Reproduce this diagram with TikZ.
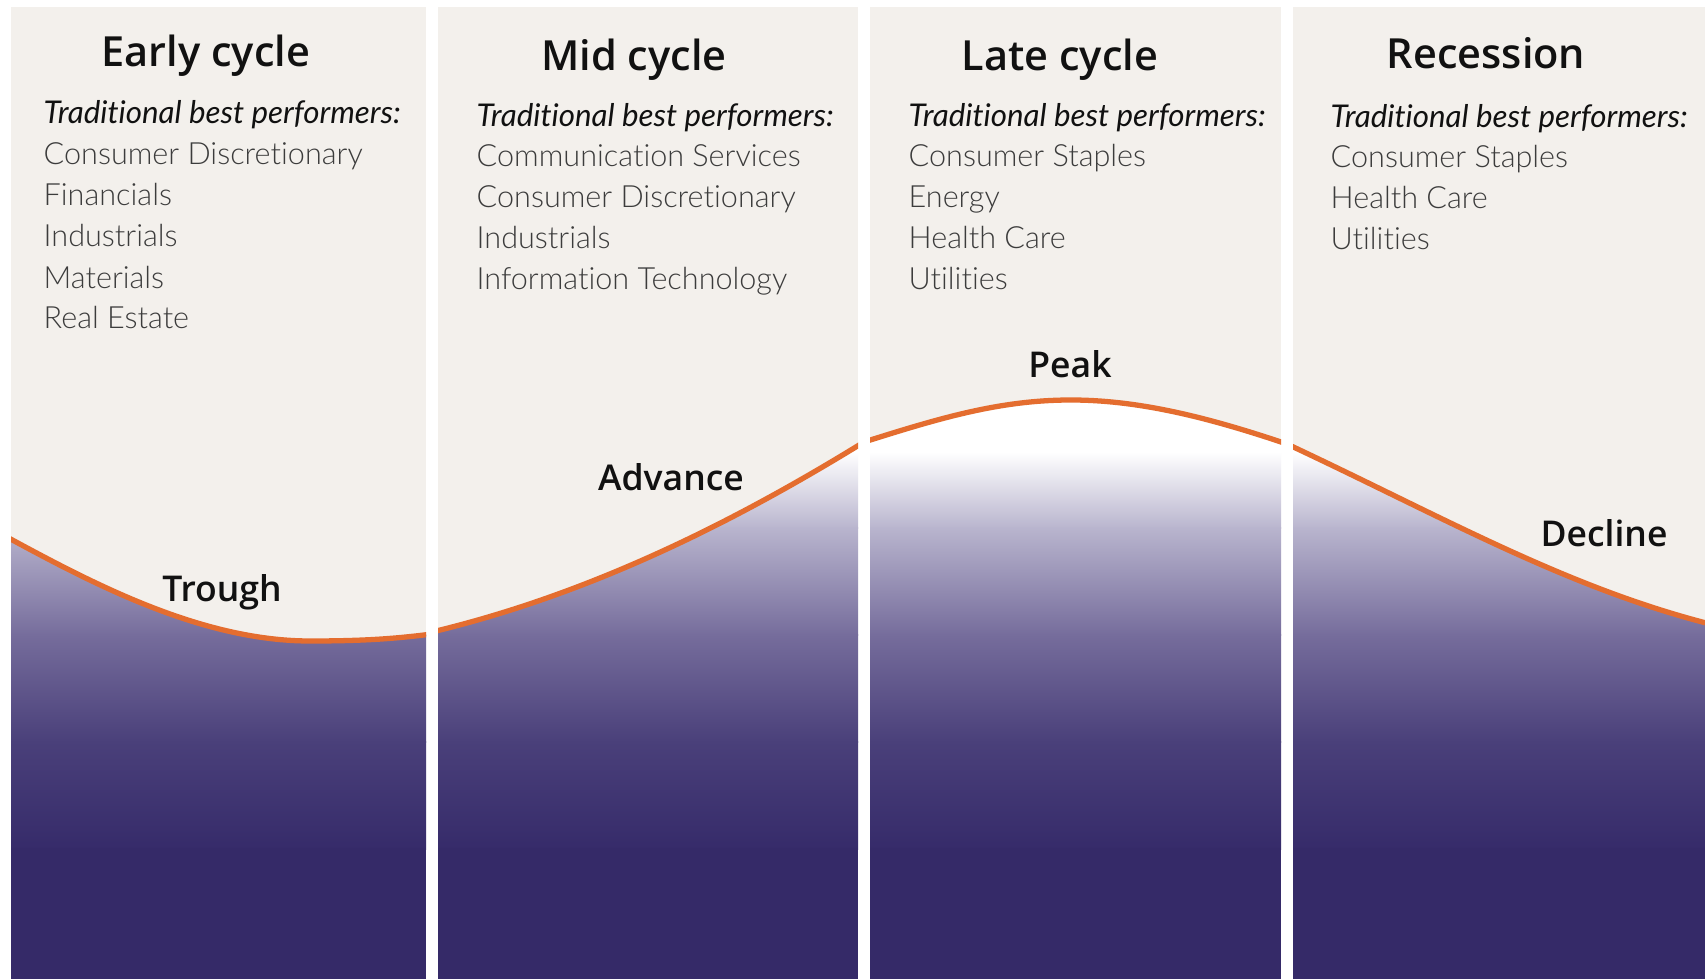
\documentclass[tikz,border=0pt]{standalone}
\usepackage{fontspec}
\setmainfont{Lato}[Ligatures=NoCommon]
\newfontfamily\lightfont{Lato Light}[Ligatures=NoCommon]
\newfontfamily\headfont{Open Sans}[BoldFont={Open Sans Semibold}]

\definecolor{panelbg}{HTML}{F3F0EC}
\definecolor{waveorange}{HTML}{E46D2F}
\definecolor{shadeA}{HTML}{B9B5CE}
\definecolor{shadeB}{HTML}{766D9C}
\definecolor{shadeC}{HTML}{4A407A}
\definecolor{shadeD}{HTML}{362B6A}
\definecolor{navy}{HTML}{352A68}
\definecolor{titleblack}{HTML}{111111}
\definecolor{itemgray}{HTML}{3C3C3C}

\tikzset{
  phase title/.style={font=\headfont\fontsize{11.8}{13}\selectfont\bfseries, text=titleblack, inner sep=0pt, anchor=base},
  perf head/.style={font=\fontsize{8.9}{10}\selectfont\itshape, text=titleblack, inner sep=0pt, anchor=base west},
  perf item/.style={font=\lightfont\fontsize{8.7}{10}\selectfont, text=itemgray, inner sep=0pt, anchor=base west},
  wave label/.style={font=\headfont\fontsize{10.1}{11}\selectfont\bfseries, text=titleblack, inner sep=0pt, anchor=base},
  wave/.style={draw=waveorange, line width=1.5pt},
}

% one column: left edge, right edge, the wave as path
\newcommand\phasepanel[3]{%
  \fill[panelbg] (#1,7) rectangle (#2,979);
  \begin{scope}
    \clip (#1,7) rectangle (#2,979);
    \begin{scope}
      \clip #3 -- (#2,990) -- (#1,990) -- cycle;
      \fill[white] (#1,300) rectangle (#2,453);
      \shade[top color=white, bottom color=shadeA] (#1,452) rectangle (#2,528);
      \shade[top color=shadeA, bottom color=shadeB] (#1,527) rectangle (#2,635);
      \shade[top color=shadeB, bottom color=shadeC] (#1,634) rectangle (#2,742);
      \shade[top color=shadeC, bottom color=shadeD] (#1,741) rectangle (#2,849);
      \fill[navy] (#1,848) rectangle (#2,990);
    \end{scope}
    \draw[wave] #3;
  \end{scope}
}

\begin{document}
\begin{tikzpicture}[x=0.01cm, y=-0.01cm]
  \useasboundingbox (0,0) rectangle (1705,979);
  \fill[white] (0,0) rectangle (1705,979);

  % columns and the wave
  \phasepanel{11}{426}{(5,536) .. controls (90,582) and (200,641) .. (310,641) .. controls (370,641) and (400,638) .. (432,634)}
  \phasepanel{438}{858}{(432,632) .. controls (578,597) and (718,532) .. (864,442)}
  \phasepanel{870}{1281}{(864,442) .. controls (940,418) and (1000,400) .. (1071,400) .. controls (1140,400) and (1210,418) .. (1287,444)}
  \phasepanel{1293}{1705}{(1287,444) .. controls (1443,517) and (1565,587) .. (1710,624)}

  % titles
  \node[phase title] (title1) at (206,67) {Early cycle};
  \node[phase title] (title2) at (634,71) {Mid cycle};
  \node[phase title] (title3) at (1060,71) {Late cycle};
  \node[phase title] (title4) at (1486,69) {Recession};

  % best performers
  \node[perf head] (head1) at (43,124) {Traditional best performers:};
  \node[perf head] (head2) at (476,127) {Traditional best performers:};
  \node[perf head] (head3) at (908,127) {Traditional best performers:};
  \node[perf head] (head4) at (1330,128) {Traditional best performers:};

  \foreach \sector [count=\i from 0] in {Consumer Discretionary, Financials, Industrials, Materials, Real Estate}
    \node[perf item] (early\i) at (43,165+41*\i) {\sector};
  \foreach \sector [count=\i from 0] in {Communication Services, Consumer Discretionary, Industrials, Information Technology}
    \node[perf item] (mid\i) at (476,167+41*\i) {\sector};
  \foreach \sector [count=\i from 0] in {Consumer Staples, Energy, Health Care, Utilities}
    \node[perf item] (late\i) at (908,167+41*\i) {\sector};
  \foreach \sector [count=\i from 0] in {Consumer Staples, Health Care, Utilities}
    \node[perf item] (rec\i) at (1330,168+41*\i) {\sector};

  % wave labels
  \node[wave label] (trough) at (222,601) {Trough};
  \node[wave label] (advance) at (671,491) {Advance};
  \node[wave label] (peak) at (1070,378) {Peak};
  \node[wave label] (decline) at (1604,546) {Decline};
\end{tikzpicture}
\end{document}
